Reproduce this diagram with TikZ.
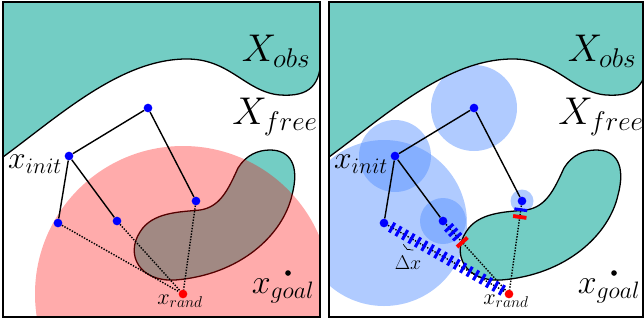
\documentclass[tikz,border=0pt]{standalone}
\usepackage{fix-cm}
\usepackage{tikz}
\usetikzlibrary{calc,decorations.pathreplacing}
\definecolor{obsteal}{RGB}{115,205,196}
\definecolor{ballblue}{RGB}{80,140,255}

\newcommand{\obstacles}{%
  \filldraw[obst] (3,157) .. controls (60,115) and (120,60) .. (185,59)
    .. controls (230,58) and (245,92) .. (280,95)
    .. controls (310,97) and (321,85) .. (321,55) -- (321,-5) -- (-5,-5) -- (-5,157) -- cycle;
  \filldraw[obst] (270,150) .. controls (290,150) and (300,165) .. (292,195)
    .. controls (283,235) and (240,275) .. (175,280)
    .. controls (140,282) and (125,255) .. (140,232)
    .. controls (152,212) and (180,212) .. (200,210)
    .. controls (220,207) and (228,190) .. (238,168)
    .. controls (246,155) and (258,150) .. cycle;
}
\newcommand{\rrttree}{%
  \node[vert] (init) at (69,156) {};
  \node[vert] (vtop) at (148,108) {};
  \node[vert] (vright) at (196,201) {};
  \node[vert] (vmid) at (117,221) {};
  \node[vert] (vleft) at (58,223) {};
  \node[randpt] (rand) at (183,294) {};
  \draw[edge] (init) -- (vtop) -- (vright);
  \draw[edge] (init) -- (vmid);
  \draw[edge] (init) -- (vleft);
  \draw[probe] (vleft) -- (rand);
  \draw[probe] (vmid) -- (rand);
  \draw[probe] (vright) -- (rand);
  \node[biglbl] (obslbl) at (276,51) {$X_{obs}$};
  \node[biglbl] (freelbl) at (275,117) {$X_{free}$};
  \node[lbl={27}] (initlbl) at (35,164) {$x_{init}$};
  \node[lbl={19}] (randlbl) at (180,301) {$x_{rand}$};
  \node[goalpt] (goal) at (288,273) {};
  \node[lbl={29}] (goallbl) at (283,291) {$x_{goal}$};
}

\begin{document}
\begin{tikzpicture}[x=0.03cm, y=-0.03cm,
    obst/.style={fill=obsteal, draw=black, line width=1.1pt},
    panel/.style={draw=black, line width=1.2pt},
    vert/.style={circle, fill=blue, inner sep=0pt, minimum size=7.4pt},
    randpt/.style={circle, fill=red, inner sep=0pt, minimum size=7.4pt},
    goalpt/.style={circle, fill=black, inner sep=0pt, minimum size=4.8pt},
    edge/.style={line width=1.2pt},
    probe/.style={line width=1.2pt, dash pattern=on 1.2pt off 1.2pt},
    biglbl/.style={font={\fontsize{33}{36}\selectfont}, inner sep=0pt},
    lbl/.style={font={\fontsize{#1}{#1}\selectfont}, inner sep=0pt},
    bluemark/.style={rectangle, fill=blue, inner sep=0pt, minimum width=2.6pt, minimum height=#1},
    bluemark/.default=9.5pt,
    redmark/.style={rectangle, fill=red, inner sep=0pt, minimum width=3.3pt, minimum height=#1},
    redmark/.default=12pt,
    ball/.style={fill=ballblue, fill opacity=0.45},
    reach/.style={fill=red, fill opacity=0.33}
]
\useasboundingbox (0,0) rectangle (644,323);

\begin{scope}[name prefix=L-]
  \clip (3,2) rectangle (320,317);
  \obstacles
  \fill[reach] (183,294) circle (148);
  \rrttree
\end{scope}
\draw[panel] (3,2) rectangle (320,317);

\begin{scope}[shift={(326,0)}, name prefix=R-]
  \clip (3,2) rectangle (317,317);
  \fill[ball] (69,156) circle (36);
  \fill[ball] (148,108) circle (43);
  \fill[ball] (117,221) circle (23);
  \fill[ball] (196,201) circle (11.5);
  \fill[ball] (58,223) circle (83);
  \obstacles
  \rrttree
  \foreach \p in {0.035,0.0902,...,0.98}
    \path (vleft) -- (rand) node[pos=\p, sloped, bluemark] {};
  \foreach \p in {0.052,0.119,0.186}
    \path (vmid) -- (rand) node[pos=\p, sloped, bluemark] {};
  \path (vmid) -- (rand) node[pos=0.27, sloped, redmark] {};
  \path (vright) -- (rand) node[pos=0.05, sloped, bluemark=11pt] {}
    node[pos=0.136, sloped, redmark=11.5pt] {};
  \draw[decorate, decoration={brace, amplitude=2.2pt, mirror}, line width=0.6pt]
    ($(vleft)!0.19!(rand)!0.27cm!-90:(rand)$) -- ($(vleft)!0.27!(rand)!0.27cm!-90:(rand)$);
  \node[lbl={17}] (dx) at (82,263) {$\Delta x$};
\end{scope}
\draw[panel] (329,2) rectangle (643,317);
\end{tikzpicture}
\end{document}
